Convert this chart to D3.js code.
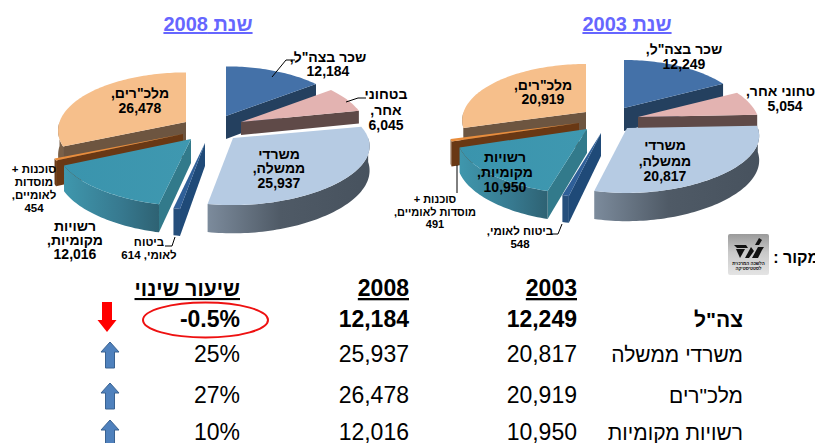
<!DOCTYPE html>
<html><head><meta charset="utf-8">
<script src="https://cdn.jsdelivr.net/npm/d3@7"></script>
<style>html,body{margin:0;padding:0;background:#fff;overflow:hidden}svg{display:block}text{font-family:"Liberation Sans",Arial,sans-serif;fill:#000}</style>
</head><body><svg id="c" width="815" height="443"></svg>
<script>
// ---- data ----
const categories = ['שכר בצה"ל','בטחוני אחר','משרדי ממשלה','ביטוח לאומי','רשויות מקומיות','סוכנות + מוסדות לאומיים','מלכ"רים'];
const values2003 = [12249,5054,20817,548,10950,491,20919];
const values2008 = [12184,6045,25937,614,12016,454,26478];
const tableYears = ['2003','2008'];
const tableRows = ['צה"ל','משרדי ממשלה','מלכ"רים','רשויות מקומיות'];
const tableIndex = [0,2,6,4];
const changeHeader = 'שיעור שינוי';
const changeLabels = ['-0.5%','25%','27%','10%'];
const changeDirection = ['down','up','up','up'];

// ---- styles and layout (not data) ----
const topColors  = ['#4471a8','#e3b3b1','#b6cbe3','#2f5f98','url(#gLocalTop)','#e98d3c','#f6bf8b'];
const wallColors = ['#24405f','#5f4a48','#5a6672','#1f4a78','#327a8b','#693814','#6d5540'];
const outerColors= ['#24405f','#5f4a48','url(#gGov)','#264f7c','url(#gLocalWall)','#6b3a16','#7a6048'];
const paintOrder = [6,0,1,5,4,3,2];
const depthBySlice = [23,13,24,23,24,24,24];
const widthBySlice = [1,1,1.09,1,1.07,1.07,1.02];
const charts = [
 {title:'שנת 2008', tx:208, values:values2008, R:124,
  apex:[[226,116],[241,122],[233,138],[205,143],[191,139],[183,134],[186,122]],
  labels:[
   {x:328,ys:[62,76],size:14,lines:['שכר בצה"ל,','12,184']},
   {x:386,ys:[99,115,130],size:14,lines:['בטחוני','אחר,','6,045']},
   {x:140,ys:[98,113],size:14,lines:['מלכ"רים,','26,478']},
   {x:279,ys:[159,173,188],size:14,lines:['משרדי','ממשלה,','25,937']},
   {x:75,ys:[231,245,259],size:14,lines:['רשויות','מקומיות,','12,016']},
   {x:34,ys:[173,186,199,212],size:11.5,lines:['סוכנות +','מוסדות','לאומיים,','454']},
   {x:149,ys:[246,259],size:11.5,lines:['ביטוח','לאומי,  614']}],
  leaders:[[[295,60],[286,60],[272,77]],[[366,98],[358,98],[346,102]],[[165,246],[172,246],[175,237]]]},
 {title:'שנת 2003', tx:627, values:values2003, R:120,
  apex:[[624,108],[638,117],[627,128],[601,133],[587,129],[579,123],[586,112]],
  labels:[
   {x:684,ys:[54,69],size:14,lines:['שכר בצה"ל,','12,249']},
   {x:785,ys:[96,111],size:14,lines:['בטחוני אחר,','5,054']},
   {x:543,ys:[90,104],size:14,lines:['מלכ"רים,','20,919']},
   {x:665,ys:[150,166,181],size:14,lines:['משרדי','ממשלה,','20,817']},
   {x:505,ys:[162,177,192],size:14,lines:['רשויות','מקומיות,','10,950']},
   {x:435,ys:[203,216,228],size:11,lines:['סוכנות +','מוסדות לאומיים,','491']},
   {x:520,ys:[235,248],size:11.5,lines:['ביטוח לאומי,','548']}],
  leaders:[[[457,165],[457,193]],[[552,234],[558,234],[562,224]]]}
];
const squash = 0.46, persp = 0.15;

const svg = d3.select('#c');
const defs = svg.append('defs');
function grad(id, stops){
  const g = defs.append('linearGradient').attr('id',id);
  stops.forEach(s=>g.append('stop').attr('offset',s[0]).attr('stop-color',s[1]));
}
grad('gGov',[[0,'#7c8b9c'],[.45,'#4f5a66'],[1,'#47525e']]);
grad('gLocalWall',[[0,'#3f97ad'],[.6,'#37798f'],[1,'#2e6273']]);
grad('gLocalTop',[[0,'#3a94ad'],[1,'#3f98b0']]);
const lg = defs.append('linearGradient').attr('id','gLogo').attr('x2',0).attr('y2',1);
[[0,'#9a9a9a'],[.45,'#c9c9c9'],[1,'#e4e4e4']].forEach(s=>lg.append('stop').attr('offset',s[0]).attr('stop-color',s[1]));

const pie = d3.pie().sort(null).startAngle(0).endAngle(2*Math.PI);
const lineGen = d3.line();

charts.forEach(ch=>{
  const arcs = pie(ch.values);
  const g = svg.append('g');
  const proj = (i,th,r,z)=>{
    const sn = Math.sin(th);
    const X = r*sn, Y = -r*Math.cos(th);
    const s = 1/(1 - persp*Y/ch.R);
    const w = 1+(widthBySlice[i]-1)*Math.abs(sn);
    return [ch.apex[i][0]+X*s*w, ch.apex[i][1]+squash*Y*s+z*s];
  };
  const sample = (a,b)=>{const n=Math.max(2,Math.ceil(Math.abs(b-a)*40));return d3.range(n+1).map(k=>a+(b-a)*k/n);};
  paintOrder.forEach(i=>{
    const a=arcs[i].startAngle,b=arcs[i].endAngle,z=depthBySlice[i],R=ch.R;
    [[a,a-Math.PI/2],[b,b+Math.PI/2]].forEach(([t,n])=>{
      if(-Math.cos(n)>0){
        const pts=[proj(i,t,0,0),proj(i,t,R,0),proj(i,t,R,z),proj(i,t,0,z)];
        g.append('path').attr('d',lineGen(pts)+'Z').attr('fill',wallColors[i]);
      }
    });
    const lo=Math.max(a,Math.PI/2),hi=Math.min(b,3*Math.PI/2);
    if(hi>lo){
      const th=sample(lo,hi);
      const pts=th.map(t=>proj(i,t,R,0)).concat(th.slice().reverse().map(t=>proj(i,t,R,z)));
      g.append('path').attr('d',lineGen(pts)+'Z').attr('fill',outerColors[i]);
    }
    const pts=[proj(i,a,0,0)].concat(sample(a,b).map(t=>proj(i,t,R,0)));
    g.append('path').attr('d',lineGen(pts)+'Z').attr('fill',topColors[i]);
  });
  ch.leaders.forEach(l=>svg.append('path').attr('d',lineGen(l)).attr('fill','none').attr('stroke','#000').attr('stroke-width',1));
  ch.labels.forEach(l=>{
    l.lines.forEach((t,k)=>{
      svg.append('text').attr('x',l.x).attr('y',l.ys[k]).attr('text-anchor','middle')
        .attr('direction',/^[\d,]+$/.test(t)?'ltr':'rtl')
        .attr('font-size',l.size).attr('font-weight','bold').text(t);
    });
  });
  svg.append('text').attr('x',ch.tx).attr('y',31).attr('text-anchor','middle').attr('direction','rtl')
    .attr('font-size',20).attr('font-weight','bold').attr('text-decoration','underline')
    .style('fill','#6666ff').text(ch.title);
});

// source + logo
const logo = svg.append('g').attr('transform','translate(728,234)');
logo.append('rect').attr('width',41).attr('height',41).attr('rx',2).attr('fill','url(#gLogo)');
logo.append('path').attr('d',lineGen([[6,11],[18,11],[20,14],[9,14]])+'Z').attr('fill','#111');
logo.append('path').attr('d',lineGen([[8,15],[17,15],[12,24]])+'Z').attr('fill','#111');
logo.append('path').attr('d',lineGen([[17,24],[23,13],[26,17],[21,24]])+'Z').attr('fill','#111');
logo.append('path').attr('d',lineGen([[24,24],[30,13],[36,13],[34,16],[30,24]])+'Z').attr('fill','#111');
logo.append('path').attr('d',lineGen([[27,11],[31,4],[34,6],[31,11]])+'Z').attr('fill','#111');
logo.append('text').attr('x',20.5).attr('y',31).attr('text-anchor','middle').attr('direction','rtl').attr('font-size',4.4).attr('font-weight','bold').text('הלשכה המרכזית');
logo.append('text').attr('x',20.5).attr('y',36).attr('text-anchor','middle').attr('direction','rtl').attr('font-size',4.4).attr('font-weight','bold').text('לסטטיסטיקה');
svg.append('text').attr('x',819).attr('y',263).attr('direction','rtl').attr('font-size',16).attr('font-weight','bold').text('מקור :');

// table
const colX = {label:743, y2003:577, y2008:409, change:240};
const rowY = [327,362,403,440];
const headY = 296, fs = 23, labelFs = 21;
const num = d3.format(',');
svg.append('text').attr('x',colX.y2003).attr('y',headY).attr('text-anchor','end').attr('font-size',fs).attr('font-weight','bold').attr('text-decoration','underline').text(tableYears[0]);
svg.append('text').attr('x',colX.y2008).attr('y',headY).attr('text-anchor','end').attr('font-size',fs).attr('font-weight','bold').attr('text-decoration','underline').text(tableYears[1]);
svg.append('text').attr('x',colX.change).attr('y',headY).attr('direction','rtl').attr('font-size',21).attr('font-weight','bold').attr('text-decoration','underline').text(changeHeader);
tableRows.forEach((r,i)=>{
  const w = i===0?'bold':'normal', y=rowY[i], v=tableIndex[i];
  svg.append('text').attr('x',colX.label).attr('y',y).attr('direction','rtl').attr('font-size',labelFs).attr('font-weight',w).text(r);
  svg.append('text').attr('x',colX.y2003).attr('y',y).attr('text-anchor','end').attr('font-size',fs).attr('font-weight',w).text(num(values2003[v]));
  svg.append('text').attr('x',colX.y2008).attr('y',y).attr('text-anchor','end').attr('font-size',fs).attr('font-weight',w).text(num(values2008[v]));
  svg.append('text').attr('x',colX.change).attr('y',y).attr('text-anchor','end').attr('font-size',fs).attr('font-weight',w).text(changeLabels[i]);
  const up = changeDirection[i]==='up';
  const h = up?26:30, hw = up?9:9.5, sw = up?4.5:5, hh = up?10:12;
  const top = up? y-20 : y-25, cx = up?110:107, dir = up?1:-1;
  const o = up? top : top+h;
  const pts=[[cx,o],[cx+hw,o+dir*hh],[cx+sw,o+dir*hh],[cx+sw,o+dir*h],[cx-sw,o+dir*h],[cx-sw,o+dir*hh],[cx-hw,o+dir*hh]];
  svg.append('path').attr('d',lineGen(pts)+'Z').attr('fill',up?'#4f81bd':'#ff0000').attr('stroke',up?'#3a6291':'none').attr('stroke-width',1);
});
svg.append('ellipse').attr('cx',205.5).attr('cy',320).attr('rx',62.5).attr('ry',17.5).attr('fill','none').attr('stroke','#ee1111').attr('stroke-width',2);
</script></body></html>
